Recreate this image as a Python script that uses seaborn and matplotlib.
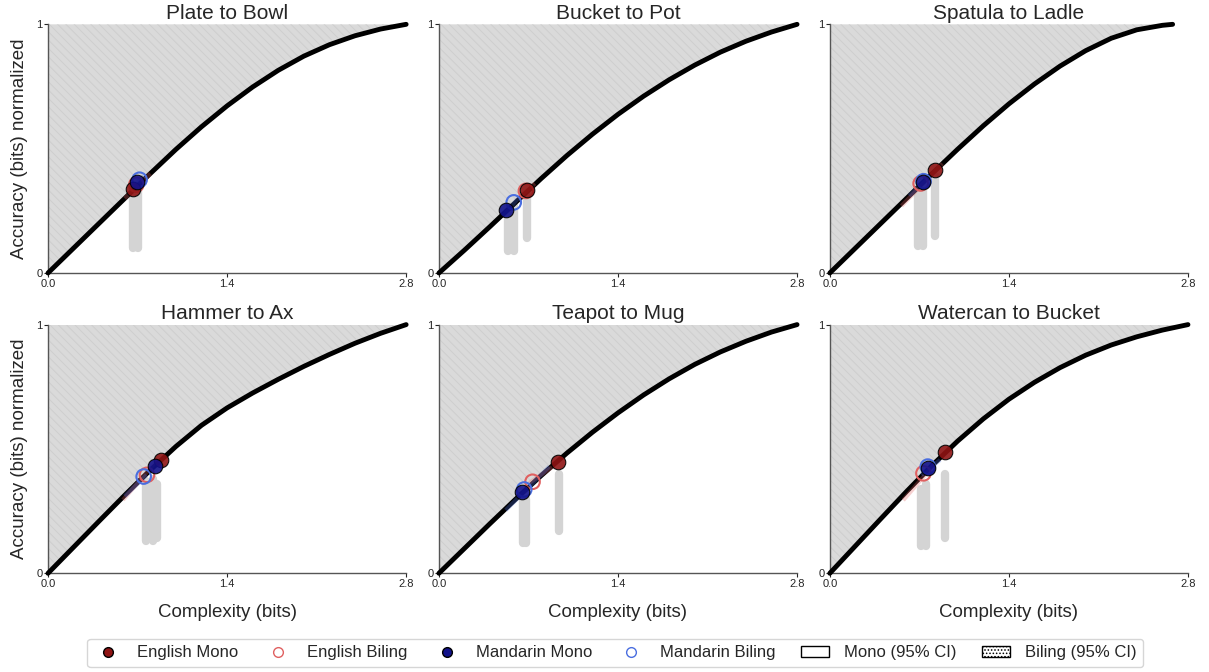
import numpy as np
import matplotlib
matplotlib.use('Agg')
import matplotlib.pyplot as plt
import seaborn as sns
from matplotlib.lines import Line2D
from matplotlib.patches import Patch

sns.set_style('white')
plt.rcParams['font.family'] = ['Liberation Sans', 'DejaVu Sans']
plt.rcParams['hatch.linewidth'] = 0.7

# Panel titles
titles = ['Plate to Bowl', 'Bucket to Pot', 'Spatula to Ladle',
          'Hammer to Ax', 'Teapot to Mug', 'Watercan to Bucket']

# Bound curve (complexity vs normalized accuracy)
curve_x = [0.0, 0.2, 0.4, 0.6, 0.8, 1.0, 1.2, 1.4, 1.6, 1.8, 2.0, 2.2, 2.4, 2.6, 2.8]
curve_x_spatula = [0.0, 0.2, 0.4, 0.6, 0.8, 1.0, 1.2, 1.4, 1.6, 1.8, 2.0, 2.2, 2.4, 2.6, 2.68]
curve_plate = [0, 0.10, 0.20, 0.30, 0.40, 0.497, 0.588, 0.672, 0.748, 0.815, 0.872, 0.918, 0.954, 0.981, 1.0]
curve_bucket = [0, 0.092, 0.187, 0.284, 0.38, 0.472, 0.558, 0.638, 0.711, 0.777, 0.836, 0.888, 0.932, 0.969, 1.0]
curve_spatula = [0, 0.10, 0.20, 0.30, 0.40, 0.498, 0.592, 0.68, 0.76, 0.832, 0.894, 0.944, 0.978, 0.996, 1.0]
curve_hammer = [0, 0.105, 0.21, 0.314, 0.415, 0.51, 0.595, 0.665, 0.725, 0.78, 0.832, 0.88, 0.925, 0.965, 1.0]
curve_teapot = [0, 0.10, 0.20, 0.298, 0.393, 0.483, 0.567, 0.645, 0.717, 0.782, 0.84, 0.89, 0.933, 0.97, 1.0]
curve_watercan = [0, 0.11, 0.22, 0.329, 0.434, 0.532, 0.621, 0.70, 0.768, 0.827, 0.877, 0.918, 0.951, 0.978, 1.0]
curves_x = [curve_x, curve_x, curve_x_spatula, curve_x, curve_x, curve_x]
curves_y = [curve_plate, curve_bucket, curve_spatula, curve_hammer, curve_teapot, curve_watercan]

# Group points: English Mono, English Biling, Mandarin Mono, Mandarin Biling
em_x = [0.664, 0.687, 0.822, 0.880, 0.928, 0.897]
em_y = [0.339, 0.335, 0.413, 0.454, 0.446, 0.487]
eb_x = [0.690, 0.680, 0.710, 0.774, 0.732, 0.732]
eb_y = [0.355, 0.330, 0.360, 0.396, 0.368, 0.402]
mm_x = [0.695, 0.525, 0.725, 0.834, 0.646, 0.771]
mm_y = [0.364, 0.254, 0.364, 0.432, 0.328, 0.422]
mb_x = [0.716, 0.585, 0.733, 0.748, 0.667, 0.766]
mb_y = [0.375, 0.284, 0.369, 0.389, 0.337, 0.429]

# 95% CI segments along the bound (x0, y0, x1, y1)
eb_ci = [(0.60, 0.30, 0.80, 0.40), (0.62, 0.30, 0.75, 0.36), (0.56, 0.27, 0.88, 0.44),
         (0.586, 0.295, 0.834, 0.443), (0.706, 0.363, 0.886, 0.427), (0.574, 0.294, 0.822, 0.442)]
mb_ci = [(0.65, 0.34, 0.75, 0.39), (0.50, 0.23, 0.62, 0.30), (0.62, 0.31, 0.78, 0.39),
         (0.60, 0.31, 0.77, 0.396), (0.523, 0.254, 0.863, 0.429), (0.716, 0.395, 0.862, 0.456)]

# Gray clouds of hypothetical systems (x, y_low, y_high)
clouds = [
    [(0.665, 0.10, 0.32), (0.70, 0.10, 0.33)],
    [(0.54, 0.09, 0.26), (0.585, 0.09, 0.27), (0.69, 0.14, 0.31)],
    [(0.69, 0.11, 0.35), (0.73, 0.11, 0.35), (0.82, 0.15, 0.39)],
    [(0.77, 0.13, 0.37), (0.82, 0.13, 0.38), (0.85, 0.14, 0.36)],
    [(0.655, 0.12, 0.30), (0.68, 0.12, 0.30), (0.935, 0.17, 0.40)],
    [(0.71, 0.11, 0.34), (0.75, 0.11, 0.36), (0.90, 0.14, 0.40)],
]

EM_COL, EB_COL = '#8f1414', '#e06060'
MM_COL, MB_COL = '#12128a', '#4a6ee0'

fig, axes = plt.subplots(2, 3, figsize=(12.09, 6.72), dpi=100)
plt.subplots_adjust(left=0.0397, right=0.9826, top=0.9638, bottom=0.1469,
                    wspace=0.0915, hspace=0.2076)

for i, ax in enumerate(axes.flat):
    cx, cy = curves_x[i], curves_y[i]

    # unachievable region above the bound
    ax.fill_between(cx, cy, 1, facecolor='#dadada', edgecolor='#cecece',
                    hatch='\\\\\\\\', linewidth=0, zorder=1)

    # gray clouds
    for (x, lo, hi) in clouds[i]:
        vl = ax.vlines(x, lo, hi, color='#d4d4d4', linewidth=6, zorder=2)
        vl.set_capstyle('round')

    sns.lineplot(x=cx, y=cy, ax=ax, color='black', linewidth=3.5, zorder=3,
                 estimator=None, sort=False)
    ax.lines[-1].set_clip_on(False)
    ax.lines[-1].set_solid_joinstyle('round')

    # CI segments
    for seg, col in [(eb_ci[i], EB_COL), (mb_ci[i], MB_COL)]:
        ax.plot([seg[0], seg[2]], [seg[1], seg[3]], color=col, alpha=0.3,
                linewidth=3, solid_capstyle='butt', zorder=4)

    # points
    sns.scatterplot(x=[eb_x[i]], y=[eb_y[i]], ax=ax, s=110, facecolor='none',
                    edgecolor=EB_COL, linewidth=1.5, zorder=5)
    sns.scatterplot(x=[mb_x[i]], y=[mb_y[i]], ax=ax, s=110, facecolor='none',
                    edgecolor=MB_COL, linewidth=1.5, zorder=5)
    sns.scatterplot(x=[em_x[i]], y=[em_y[i]], ax=ax, s=110, color=EM_COL,
                    edgecolor='black', linewidth=0.8, alpha=0.9, zorder=6)
    sns.scatterplot(x=[mm_x[i]], y=[mm_y[i]], ax=ax, s=110, color=MM_COL,
                    edgecolor='black', linewidth=0.8, alpha=0.9, zorder=6)

    ax.set_xlim(0, 2.8)
    ax.set_ylim(0, 1)
    ax.set_xticks([0, 1.4, 2.8])
    ax.set_xticklabels(['0.0', '1.4', '2.8'])
    ax.set_yticks([0, 1])
    ax.set_yticklabels(['0', '1'])
    ax.tick_params(axis='both', labelsize=8, length=3, width=0.8, pad=1,
                   bottom=True, left=True)
    sns.despine(ax=ax)
    for sp in ['left', 'bottom']:
        ax.spines[sp].set_color('#555555')
        ax.spines[sp].set_linewidth(1)
    ax.set_title(titles[i], fontsize=15, pad=4)
    ax.set_xlabel('Complexity (bits)' if i >= 3 else '', fontsize=13.5, labelpad=11)
    ax.set_ylabel('Accuracy (bits) normalized' if i % 3 == 0 else '', fontsize=13.5,
                  labelpad=6)

handles = [
    Line2D([], [], marker='o', linestyle='', markerfacecolor=EM_COL,
           markeredgecolor='black', markersize=7, label='English Mono'),
    Line2D([], [], marker='o', linestyle='', markerfacecolor='none',
           markeredgecolor=EB_COL, markersize=7, label='English Biling'),
    Line2D([], [], marker='o', linestyle='', markerfacecolor=MM_COL,
           markeredgecolor='black', markersize=7, label='Mandarin Mono'),
    Line2D([], [], marker='o', linestyle='', markerfacecolor='none',
           markeredgecolor=MB_COL, markersize=7, label='Mandarin Biling'),
    Patch(facecolor='white', edgecolor='black', label='Mono (95% CI)'),
    Patch(facecolor='white', edgecolor='black', hatch='.....', label='Biling (95% CI)'),
]
fig.legend(handles=handles, loc='lower center', ncol=6, fontsize=12,
           bbox_to_anchor=(0.509, -0.005), frameon=True, columnspacing=1.5,
           handletextpad=0.9, handlelength=1.7)

plt.savefig('out.png', dpi=100)
